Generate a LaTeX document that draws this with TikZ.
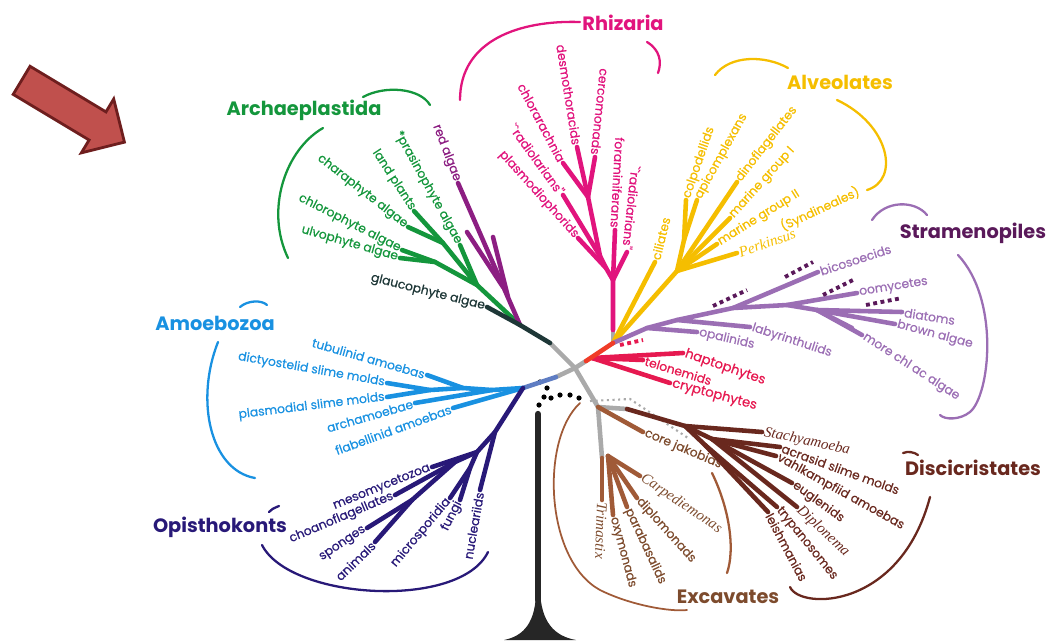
\documentclass[tikz,border=0pt]{standalone}
\usepackage{fontspec}
\setmainfont{Poppins}
\newfontfamily\labfont{Poppins}[FakeBold=0.6]
\newfontfamily\serifit{Liberation Serif}
\usetikzlibrary{shapes.arrows}

\definecolor{archgreen}{RGB}{20,150,60}
\definecolor{redalg}{RGB}{140,30,130}
\definecolor{slate}{RGB}{30,55,55}
\definecolor{rhiz}{RGB}{225,20,125}
\definecolor{alveo}{RGB}{245,190,0}
\definecolor{strab}{RGB}{155,110,180}
\definecolor{strad}{RGB}{90,25,90}
\definecolor{crim}{RGB}{230,25,80}
\definecolor{redseg}{RGB}{240,60,40}
\definecolor{amoeb}{RGB}{25,145,225}
\definecolor{bgray}{RGB}{95,125,195}
\definecolor{opis}{RGB}{40,25,120}
\definecolor{exca}{RGB}{160,90,55}
\definecolor{excal}{RGB}{125,75,45}
\definecolor{disc}{RGB}{105,40,30}
\definecolor{stem}{RGB}{170,170,170}
\definecolor{arrowred}{RGB}{192,80,77}
\definecolor{arrowdark}{RGB}{110,30,30}

\begin{document}
\begin{tikzpicture}[x=0.02cm,y=-0.02cm,
  br/.style={line width=2.6pt,line cap=round},
  brace/.style={line width=1.3pt,line cap=round},
  lab/.style={font=\labfont\fontsize{7}{8}\selectfont,inner sep=1.2pt},
  itlab/.style={font=\serifit\itshape\fontsize{8.5}{9}\selectfont,inner sep=1.2pt},
  grp/.style={font=\fontsize{11}{13}\selectfont\bfseries,inner sep=0pt}]
\useasboundingbox (0,0) rectangle (1053,640);

%red arrow
\node[single arrow,draw=arrowdark,fill=arrowred,line width=1.6pt,
  minimum height=2.4cm,inner xsep=0pt,inner ysep=0.3cm,
  single arrow head extend=0.3cm,rotate=-31] (arrow) at (66,107) {};

%center, grey stems
\coordinate (C) at (575,368);
\coordinate (gA) at (550,343);
\coordinate (gR) at (586,361);
\coordinate (gB) at (556,377);
\coordinate (gX) at (598,407);
\coordinate (gX2) at (602,458);
\coordinate (gD) at (627,409);
\coordinate (rJ0) at (613,343);
\coordinate (rS) at (613,330);
\draw[br,stem] (gA) -- (C) -- (gR);
\draw[br,stem] (gB) -- (C) -- (gX) -- (gX2);
\draw[br,stem] (gX) -- (gD);
\draw[br,stem] (rJ0) -- (rS);
\draw[stem,line width=1.2pt,dotted] (590,401) -- (630,399) -- (688,438);

%black root
\foreach \x/\y in {540/382,547/388,544/397,551/398,560/395,570/395,579/398,539/405}
  \fill (\x,\y) circle (2.6);
\draw[line width=3.6pt,line cap=round,black!85] (538,414) -- (538,600);
\fill[black!85] (536,590) .. controls (536,622) and (524,636) .. (504,640)
  -- (576,640) .. controls (554,636) and (541,622) .. (540,590) -- cycle;

%Archaeplastida
\coordinate (arJ) at (520,325);
\coordinate (glauT) at (487,307);
\coordinate (gJ1) at (477,285);
\coordinate (gJ2) at (435,262);
\coordinate (gJ3) at (443,243);
\coordinate (ulvoT) at (400,258);
\coordinate (chloT) at (402,250);
\coordinate (charT) at (408,227);
\coordinate (landT) at (414,211);
\coordinate (prasT) at (460,245);
\coordinate (redT) at (458,183);
\coordinate (pJ1) at (503,287);
\coordinate (pJ2) at (508,297);
\draw[br,archgreen] (arJ) -- (gJ1) -- (gJ2) -- (ulvoT);
\draw[br,archgreen] (gJ2) -- (chloT);
\draw[br,archgreen] (gJ1) -- (gJ3) -- (charT);
\draw[br,archgreen] (gJ3) -- (landT);
\draw[br,archgreen] (gJ1) -- (prasT);
\draw[br,redalg] (arJ) -- (redT);
\draw[br,redalg] (pJ1) -- (467,232);
\draw[br,redalg] (pJ2) -- (493,237);
\draw[br,slate] (gA) -- (arJ) -- (glauT);
\node[lab,archgreen,anchor=east,rotate=-16] (ulvo) at (ulvoT) {ulvophyte algae};
\node[lab,archgreen,anchor=east,rotate=-27] (chlo) at (chloT) {chlorophyte algae};
\node[lab,archgreen,anchor=east,rotate=-38] (chara) at (charT) {charaphyte algae};
\node[lab,archgreen,anchor=east,rotate=-57] (land) at (landT) {land plants};
\node[lab,archgreen,anchor=east,rotate=-61] (pras) at (prasT) {*prasinophyte algae};
\node[lab,redalg,anchor=east,rotate=-69] (reda) at (redT) {red algae};
\node[lab,slate,anchor=east,rotate=-14] (glau) at (glauT) {glaucophyte algae};
\node[grp,archgreen] (archae) at (304,110) {Archaeplastida};
\draw[brace,archgreen] (288,258) .. controls (265,210) and (285,150) .. (323,128);
\draw[brace,archgreen] (363,97) .. controls (385,85) and (420,88) .. (430,105);

%Rhizaria
\coordinate (rJ1) at (613,280);
\coordinate (rJ2) at (606,268);
\coordinate (rJ3) at (600,256);
\coordinate (rJ4) at (588,197);
\coordinate (foramT) at (615,230);
\coordinate (radRT) at (627,252);
\coordinate (plasmT) at (578,238);
\coordinate (radLT) at (563,195);
\coordinate (desmT) at (577,147);
\coordinate (cercT) at (595,157);
\coordinate (chlorT) at (563,163);
\draw[br,rhiz] (rS) -- (rJ1) -- (foramT);
\draw[br,rhiz] (rJ1) -- (radRT);
\draw[br,rhiz] (rJ1) -- (rJ2) -- (plasmT);
\draw[br,rhiz] (rJ2) -- (rJ3) -- (radLT);
\draw[br,rhiz] (rJ3) -- (rJ4) -- (desmT);
\draw[br,rhiz] (rJ4) -- (cercT);
\draw[br,rhiz] (rJ4) -- (chlorT);
\node[lab,rhiz,anchor=east,rotate=-81] (desm) at (desmT) {desmothoracids};
\node[lab,rhiz,anchor=east,rotate=-96] (cerc) at (cercT) {cercomonads};
\node[lab,rhiz,anchor=east,rotate=-62] (chlor) at (chlorT) {chlorarachnia};
\node[lab,rhiz,anchor=east,rotate=-54] (radL) at (radLT) {``radiolarians''};
\node[lab,rhiz,anchor=east,rotate=-48] (plasm) at (plasmT) {plasmodiophorids};
\node[lab,rhiz,anchor=east,rotate=-93] (foram) at (foramT) {foraminiferans};
\node[lab,rhiz,anchor=east,rotate=-96] (radR) at (radRT) {``radiolarians''};
\node[grp,rhiz] (rhizaria) at (623,23) {Rhizaria};
\draw[brace,rhiz] (580,22) .. controls (520,20) and (460,40) .. (460,100);
\draw[brace,rhiz] (647,42) .. controls (660,50) and (662,62) .. (658,73);

%Alveolates
\coordinate (yJ1) at (677,271);
\coordinate (yJ2) at (684,240);
\coordinate (ciliT) at (655,262);
\coordinate (colpT) at (686,200);
\coordinate (apicT) at (697,200);
\coordinate (dinoT) at (737,182);
\coordinate (mg1T) at (730,218);
\coordinate (mg2T) at (717,244);
\coordinate (perkT) at (737,253);
\draw[br,alveo] (rJ0) -- (ciliT);
\draw[br,alveo] (rJ0) -- (yJ1) -- (yJ2) -- (colpT);
\draw[br,alveo] (yJ2) -- (apicT);
\draw[br,alveo] (yJ1) -- (dinoT);
\draw[br,alveo] (yJ1) -- (mg1T);
\draw[br,alveo] (yJ1) -- (mg2T);
\draw[br,alveo] (yJ1) -- (perkT);
\node[lab,alveo,anchor=west,rotate=76] (cili) at (ciliT) {ciliates};
\node[lab,alveo,anchor=west,rotate=71] (colp) at (colpT) {colpodellids};
\node[lab,alveo,anchor=west,rotate=61] (apic) at (apicT) {apicomplexans};
\node[lab,alveo,anchor=west,rotate=52] (dino) at (dinoT) {dinoflagellates};
\node[lab,alveo,anchor=west,rotate=48] (mg1) at (mg1T) {marine group I};
\node[lab,alveo,anchor=west,rotate=32] (mg2) at (mg2T) {marine group II};
\node[lab,alveo,rotate=25] (synd) at (820,209) {(Syndineales)};
\node[itlab,alveo,anchor=west,rotate=19] (perk) at (perkT) {Perkinsus};
\node[grp,alveo] (alveolates) at (840,82) {Alveolates};
\draw[brace,alveo] (715,75) .. controls (730,55) and (765,55) .. (788,68);
\draw[brace,alveo] (837,100) .. controls (890,125) and (900,180) .. (867,190);

%Stramenopiles
\coordinate (sA) at (647,328);
\coordinate (sB) at (677,320);
\coordinate (sJ1) at (733,308);
\coordinate (sJ2) at (787,305);
\coordinate (sJ3) at (817,310);
\coordinate (opalT) at (697,332);
\coordinate (labyT) at (750,327);
\coordinate (bicoT) at (818,272);
\coordinate (oomyT) at (857,293);
\coordinate (diatT) at (902,312);
\coordinate (browT) at (895,324);
\coordinate (morT) at (862,335);
\draw[br,strab] (rJ0) -- (sA) -- (sB) -- (sJ1) -- (sJ2) -- (sJ3) -- (diatT);
\draw[br,strab] (sA) -- (opalT);
\draw[br,strab] (sB) -- (labyT);
\draw[br,strab] (sJ1) -- (bicoT);
\draw[br,strab] (sJ2) -- (oomyT);
\draw[br,strab] (sJ3) -- (browT);
\draw[br,strab] (sJ3) -- (morT);
\draw[br,strab] (sJ3) -- (852,328);
\foreach \xa/\ya/\xb/\yb in {713/306/747/290,785/277/813/262,823/295/853/280,866/305/902/298}
  \draw[strad,line width=2.2pt,dotted] (\xa,\ya) -- (\xb,\yb);
\node[lab,strab,anchor=west,rotate=-13] (opal) at (opalT) {opalinids};
\node[lab,strab,anchor=west,rotate=-18] (laby) at (labyT) {labyrinthulids};
\node[lab,strab,anchor=west,rotate=18] (bico) at (bicoT) {bicosoecids};
\node[lab,strab,anchor=west,rotate=9] (oomy) at (oomyT) {oomycetes};
\node[lab,strab,anchor=west,rotate=-9] (diat) at (diatT) {diatoms};
\node[lab,strab,anchor=west,rotate=-15] (brow) at (browT) {brown algae};
\node[lab,strab,anchor=west,rotate=-33] (more) at (morT) {more chl ac algae};
\node[grp,strad] (strameno) at (973,233) {Stramenopiles};
\draw[brace,strab] (872,220) .. controls (885,200) and (915,200) .. (927,215);
\draw[brace,strab] (958,255) .. controls (1000,300) and (990,395) .. (970,412)
  .. controls (960,420) and (945,420) .. (940,415);

%haptophytes etc
\coordinate (crJ) at (592,358);
\coordinate (haptT) at (683,353);
\coordinate (teloT) at (643,360);
\coordinate (cryT) at (670,383);
\draw[br,crim] (crJ) -- (haptT);
\draw[br,crim] (crJ) -- (teloT);
\draw[br,crim] (crJ) -- (cryT);
\draw[br,redseg] (gR) -- (rJ0);
\draw[crim,line width=2.2pt,dotted] (620,345) -- (643,340);
\node[lab,crim,anchor=west,rotate=-19,font=\labfont\fontsize{7.5}{8}\selectfont] (hapt) at (haptT) {haptophytes};
\node[lab,crim,anchor=west,rotate=-17,font=\labfont\fontsize{7}{8}\selectfont] (telo) at (teloT) {telonemids};
\node[lab,crim,anchor=west,rotate=-15,font=\labfont\fontsize{7.5}{8}\selectfont] (cryp) at (cryT) {cryptophytes};

%Amoebozoa
\coordinate (bJ0) at (523,388);
\coordinate (bJ1) at (492,390);
\coordinate (bJ2) at (463,388);
\coordinate (bJ3) at (430,390);
\coordinate (tubuT) at (427,375);
\coordinate (dictT) at (387,383);
\coordinate (plasT) at (387,397);
\coordinate (archT) at (415,403);
\coordinate (flabT) at (453,408);
\draw[br,bgray] (gB) -- (bJ0);
\draw[br,amoeb] (bJ0) -- (bJ1) -- (bJ2) -- (bJ3) -- (dictT);
\draw[br,amoeb] (bJ3) -- (plasT);
\draw[br,amoeb] (bJ2) -- (tubuT);
\draw[br,amoeb] (bJ1) -- (archT);
\draw[br,amoeb] (bJ0) -- (flabT);
\node[lab,amoeb,anchor=east,rotate=-16] (tubu) at (tubuT) {tubulinid amoebas};
\node[lab,amoeb,anchor=east,rotate=-10] (dict) at (dictT) {dictyostelid slime molds};
\node[lab,amoeb,anchor=east,rotate=7] (plas) at (plasT) {plasmodial slime molds};
\node[lab,amoeb,anchor=east,rotate=16] (archa) at (archT) {archamoebae};
\node[lab,amoeb,anchor=east,rotate=20] (flab) at (flabT) {flabellinid amoebas};
\node[grp,amoeb] (amoebozoa) at (215,323) {Amoebozoa};
\draw[brace,amoeb] (240,307) .. controls (248,300) and (262,300) .. (267,305);
\draw[brace,amoeb] (218,342) .. controls (195,400) and (210,470) .. (255,478);

%Opisthokonts
\coordinate (oJ1) at (495,432);
\coordinate (oJ2) at (477,452);
\coordinate (oJ3) at (455,462);
\coordinate (oJ4) at (412,500);
\coordinate (oJ5) at (470,468);
\coordinate (mesoT) at (432,467);
\coordinate (choaT) at (395,495);
\coordinate (spongT) at (367,528);
\coordinate (animT) at (375,542);
\coordinate (microT) at (450,498);
\coordinate (fungT) at (460,500);
\coordinate (nuclT) at (480,490);
\draw[br,opis] (bJ0) -- (oJ1) -- (nuclT);
\draw[br,opis] (oJ1) -- (oJ2) -- (mesoT);
\draw[br,opis] (oJ2) -- (oJ5) -- (microT);
\draw[br,opis] (oJ5) -- (fungT);
\draw[br,opis] (oJ2) -- (oJ3) -- (choaT);
\draw[br,opis] (oJ3) -- (oJ4) -- (spongT);
\draw[br,opis] (oJ4) -- (animT);
\node[lab,opis,anchor=east,rotate=22] (meso) at (mesoT) {mesomycetozoa};
\node[lab,opis,anchor=east,rotate=23] (choa) at (choaT) {choanoflagellates};
\node[lab,opis,anchor=east,rotate=34] (spon) at (spongT) {sponges};
\node[lab,opis,anchor=east,rotate=44] (anim) at (animT) {animals};
\node[lab,opis,anchor=east,rotate=50] (micro) at (microT) {microsporidia};
\node[lab,opis,anchor=east,rotate=63] (fung) at (fungT) {fungi};
\node[lab,opis,anchor=east,rotate=80] (nucl) at (nuclT) {nucleariids};
\node[grp,opis] (opistho) at (220,527) {Opisthokonts};
\draw[brace,opis] (269,512) .. controls (272,509) .. (279,506);
\draw[brace,opis] (262,545) .. controls (290,600) and (460,610) .. (488,552);

%Excavates
\coordinate (eJ1) at (608,456);
\coordinate (coreT) at (643,432);
\coordinate (trimT) at (602,500);
\coordinate (oxyT) at (613,515);
\coordinate (paraT) at (627,507);
\coordinate (diplT) at (637,498);
\coordinate (carpT) at (640,476);
\draw[br,exca] (gX) -- (coreT);
\draw[br,exca] (gX2) -- (trimT);
\draw[br,exca] (eJ1) -- (oxyT);
\draw[br,exca] (eJ1) -- (paraT);
\draw[br,exca] (eJ1) -- (diplT);
\draw[br,exca] (eJ1) -- (carpT);
\node[lab,excal,anchor=west,rotate=-23] (core) at (coreT) {core jakobids};
\node[itlab,excal,anchor=west,rotate=-92] (trim) at (trimT) {Trimastix};
\node[lab,excal,anchor=west,rotate=-75] (oxym) at (oxyT) {oxymonads};
\node[lab,excal,anchor=west,rotate=-65] (para) at (paraT) {parabasalids};
\node[lab,excal,anchor=west,rotate=-48] (dipl) at (diplT) {diplomonads};
\node[itlab,excal,anchor=west,rotate=-34] (carp) at (carpT) {Carpediemonas};
\node[grp,excal] (excavates) at (728,597) {Excavates};
\draw[brace,exca,line width=1pt] (580,403) .. controls (540,440) and (545,560) .. (600,590)
  .. controls (630,605) and (670,612) .. (687,610);
\draw[brace,exca] (712,473) .. controls (730,510) and (735,550) .. (727,573);

%Discicristates
\coordinate (dJ1) at (685,426);
\coordinate (dJ2) at (712,439);
\coordinate (dJ3) at (705,445);
\coordinate (stacT) at (762,432);
\coordinate (acraT) at (780,447);
\coordinate (vahlT) at (776,456);
\coordinate (eugT) at (792,483);
\coordinate (dipnT) at (797,507);
\coordinate (trypT) at (777,507);
\coordinate (leisT) at (768,512);
\draw[br,disc] (gD) -- (dJ1) -- (stacT);
\draw[br,disc] (dJ1) -- (dJ2) -- (acraT);
\draw[br,disc] (dJ2) -- (vahlT);
\draw[br,disc] (dJ2) -- (eugT);
\draw[br,disc] (dJ2) -- (dipnT);
\draw[br,disc] (dJ1) -- (dJ3) -- (trypT);
\draw[br,disc] (dJ3) -- (leisT);
\node[itlab,disc,anchor=west,rotate=-12] (stac) at (stacT) {Stachyamoeba};
\node[lab,disc,anchor=west,rotate=-20] (acra) at (acraT) {acrasid slime molds};
\node[lab,disc,anchor=west,rotate=-29] (vahl) at (vahlT) {vahlkampfiid amoebas};
\node[lab,disc,anchor=west,rotate=-36] (eugl) at (eugT) {euglenids};
\node[itlab,disc,anchor=west,rotate=-43] (dipn) at (dipnT) {Diplonema};
\node[lab,disc,anchor=west,rotate=-51] (tryp) at (trypT) {trypanosomes};
\node[lab,disc,anchor=west,rotate=-62] (leis) at (leisT) {leishmanias};
\node[grp,disc] (discicr) at (973,468) {Discicristates};
\draw[brace,disc] (903,453) .. controls (908,451) and (914,452) .. (918,455);
\draw[brace,disc] (790,587) .. controls (800,610) and (900,610) .. (930,497);
\end{tikzpicture}
\end{document}
